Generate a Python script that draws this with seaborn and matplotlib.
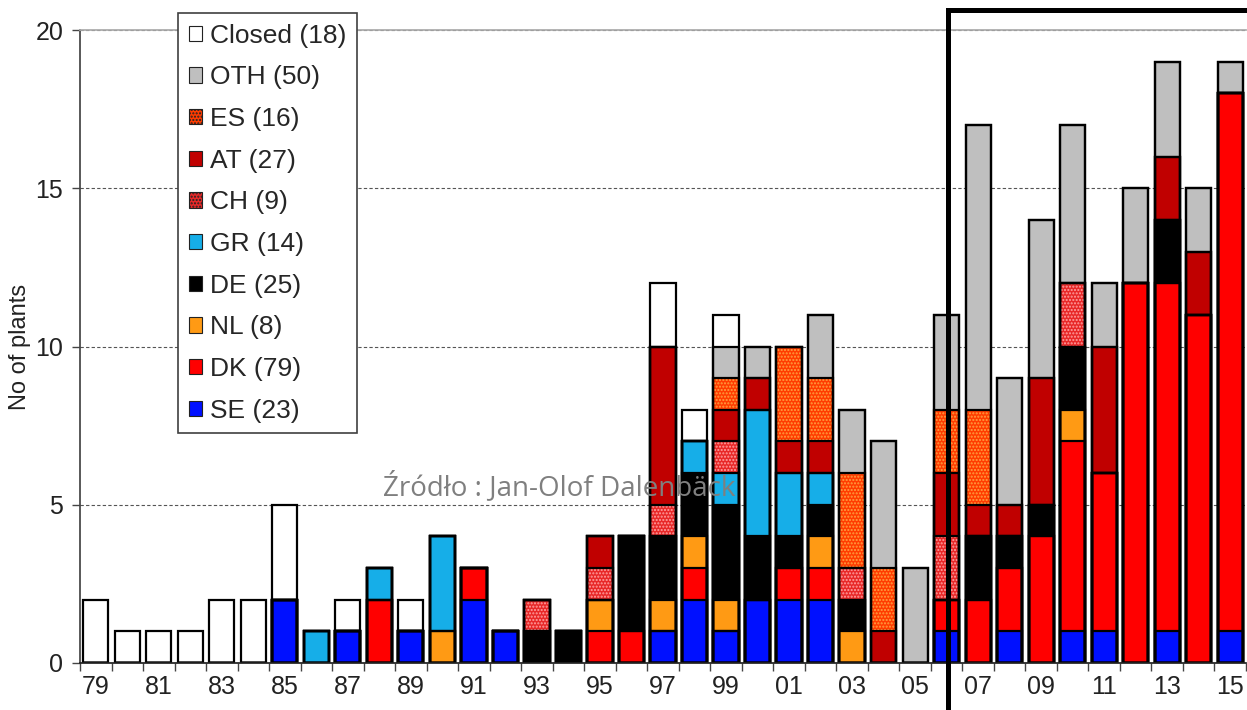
import numpy as np
import pandas as pd
import seaborn as sns
import matplotlib.pyplot as plt
from matplotlib.patches import Rectangle, Patch

# Solar district heating plants per year and country
years = [str(y) for y in range(1979, 2016)]
tick_labels = [y[2:] for y in years[::2]]

SE     = [0,0,0,0,0,0,2,0,1,0,1,0,2,1,0,0,0,0,1,2,1,2,2,2,0,0,0,1,0,1,0,1,1,0,1,0,1]
DK     = [0,0,0,0,0,0,0,0,0,2,0,0,1,0,0,0,1,1,0,1,0,0,1,1,0,0,0,1,2,2,4,6,5,12,11,11,17]
NL     = [0,0,0,0,0,0,0,0,0,0,0,1,0,0,0,0,1,0,1,1,1,0,0,1,1,0,0,0,0,0,0,1,0,0,0,0,0]
DE     = [0,0,0,0,0,0,0,0,0,0,0,0,0,0,1,1,0,3,2,2,3,2,1,1,1,0,0,0,2,1,1,2,0,0,2,0,0]
GR     = [0,0,0,0,0,0,0,1,0,1,0,3,0,0,0,0,0,0,0,1,1,4,2,1,0,0,0,0,0,0,0,0,0,0,0,0,0]
CH     = [0,0,0,0,0,0,0,0,0,0,0,0,0,0,1,0,1,0,1,0,1,0,0,0,1,0,0,2,0,0,0,2,0,0,0,0,0]
AT     = [0,0,0,0,0,0,0,0,0,0,0,0,0,0,0,0,1,0,5,0,1,1,1,1,0,1,0,2,1,1,4,0,4,0,2,2,0]
ES     = [0,0,0,0,0,0,0,0,0,0,0,0,0,0,0,0,0,0,0,0,1,0,3,2,3,2,0,2,3,0,0,0,0,0,0,0,0]
OTH    = [0,0,0,0,0,0,0,0,0,0,0,0,0,0,0,0,0,0,0,0,1,1,0,2,2,4,3,3,9,4,5,5,2,3,3,2,1]
Closed = [2,1,1,1,2,2,3,0,1,0,1,0,0,0,0,0,0,0,2,1,1,0,0,0,0,0,0,0,0,0,0,0,0,0,0,0,0]

# bottom -> top: (name, values, face colour, dot colour or None)
layers = [
    ("SE", SE, "#0010ff", None),
    ("DK", DK, "#ff0000", None),
    ("NL", NL, "#ff9a14", None),
    ("DE", DE, "#000000", None),
    ("GR", GR, "#16aee8", None),
    ("CH", CH, "#e82828", "#ffa0a0"),
    ("AT", AT, "#c00000", None),
    ("ES", ES, "#ff3c00", "#ffa040"),
    ("OTH", OTH, "#bfbfbf", None),
    ("Closed", Closed, "#ffffff", None),
]

sns.set_theme(style="white")
plt.rcParams["font.family"] = ["Liberation Sans", "DejaVu Sans"]
plt.rcParams["hatch.linewidth"] = 1.0

fig = plt.figure(figsize=(12.47, 7.10), dpi=100)
ax = fig.add_axes([80/1247, 1 - 663/710, 1166/1247, 633/710])

cums = np.cumsum([np.array(l[1]) for l in layers], axis=0)

# fills, top layer first so lower layers cover it
for i in range(len(layers) - 1, -1, -1):
    name, vals, fc, dot = layers[i]
    kw = dict(hatch=".....", edgecolor=dot) if dot else dict(edgecolor="none")
    sns.barplot(x=years, y=cums[i], color=fc, saturation=1, width=0.8,
                linewidth=0, errorbar=None, ax=ax, **kw)

# black outlines of every segment
for i in range(len(layers)):
    sns.barplot(x=years, y=cums[i], color="black", fill=False, width=0.8,
                linewidth=1.6, errorbar=None, ax=ax)

ax.set_xlim(-0.5, 36.5)
ax.set_ylim(0, 20)
ax.set_xticks(np.arange(0, 37, 2))
ax.set_xticklabels(tick_labels)
ax.set_xticks(np.arange(-0.5, 37, 1), minor=True)
ax.tick_params(axis="x", which="major", length=0, pad=9, labelsize=18, labelcolor="#222222")
ax.tick_params(axis="x", which="minor", length=6, width=1, color="#444444", bottom=True)
ax.set_yticks([0, 5, 10, 15, 20])
ax.tick_params(axis="y", length=6, width=1, color="#444444", left=True, labelsize=18,
               labelcolor="#222222", pad=6)
ax.set_xlabel("")
ax.set_ylabel("No of plants", fontsize=17, color="#222222", labelpad=3)

ax.yaxis.grid(True, linestyle=(0, (3, 2)), color="#555555", linewidth=0.8)
ax.set_axisbelow(True)
ax.spines["top"].set_color("#aaaaaa")
ax.spines["right"].set_visible(False)
ax.spines["left"].set_color("#444444")
ax.spines["bottom"].set_color("#222222")

handles = []
for name, vals, fc, dot in layers[::-1]:
    if dot:
        h = Patch(facecolor=fc, edgecolor="#222222", hatch=".....", linewidth=0.8)
    else:
        h = Patch(facecolor=fc, edgecolor="#222222", linewidth=0.8)
    handles.append((h, f"{name} ({sum(vals)})"))

leg = ax.legend([h for h, _ in handles], [t for _, t in handles],
                loc="upper left", bbox_to_anchor=(178/1247, 1 - 13/710),
                bbox_transform=fig.transFigure, borderaxespad=0,
                fontsize=19, frameon=True, fancybox=False, framealpha=1,
                edgecolor="#404040", handlelength=0.52, handleheight=0.52,
                handletextpad=0.3, labelspacing=0.67, borderpad=0.4)
leg.get_frame().set_linewidth(1.2)

fig.text(559/1247, 1 - 487/710, "Źródło : Jan-Olof Dalenbäck", ha="center", va="center",
         fontsize=20, color="#7f7f7f", family=["Open Sans", "DejaVu Sans"], zorder=10)

# highlight box around 2006-2015
fig.add_artist(Rectangle((948/1247, -0.05), 0.3, 1.05 - 10/710, transform=fig.transFigure,
                         fill=False, edgecolor="black", linewidth=3.6, clip_on=False))

fig.savefig("out.png", dpi=100)
